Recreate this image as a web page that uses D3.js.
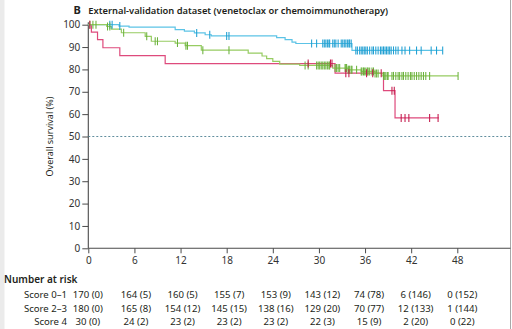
<!DOCTYPE html>
<html><head><meta charset="utf-8">
<script src="https://cdn.jsdelivr.net/npm/d3@7"></script>
<style>html,body{margin:0;padding:0;background:#fff;}svg{display:block;font-family:"Noto Sans",sans-serif;}</style>
</head><body>
<svg id="c" width="512" height="329"></svg>
<script>
// ---------- data ----------
const months = [0, 6, 12, 18, 24, 30, 36, 42, 48];
const yTicks = [0, 10, 20, 30, 40, 50, 60, 70, 80, 90, 100];
const seriesNames = ["Score 0–1", "Score 2–3", "Score 4"];

// Kaplan–Meier steps [month, survival %]
const stepsScore01 = [[0,100],[4.0,99.4],[5.3,98.9],[11.3,97.8],[12.5,97.1],[13.8,96.3],[15.2,95.5],[16.0,95.0],[24.5,94.2],[25.6,93.3],[26.5,92.2],[27.0,91.6],[34.3,88.5]];
const endScore01 = 46.1;
const stepsScore23 = [[0,100],[2.4,99.2],[3.0,98.0],[4.3,96.4],[7.4,94.8],[8.2,92.6],[11.3,91.8],[12.6,90.6],[14.7,88.6],[20.8,87.3],[22.6,86.0],[23.2,84.8],[24.0,83.6],[24.9,82.4],[27.5,81.8],[31.8,80.6],[33.8,79.8],[35.5,79.1],[37.3,78.2],[38.2,77.1]];
const endScore23 = 48.1;
const stepsScore4 = [[0,100],[0.4,96.7],[1.2,93.3],[1.9,89.7],[4.1,86.2],[10.0,82.6],[32.1,78.3],[38.4,70.5],[39.9,58.3]];
const endScore4 = 45.6;

// censoring times (months)
const censorScore01 = [2.8,3.1,4.1,14.1,15.8,18.0,18.3,29.05,29.7,30.5,30.7,30.9,31.1,31.3,31.4,31.8,32.0,32.2,32.5,32.9,33.1,33.3,33.5,33.7,33.9,34.0,34.2,34.8,35.0,35.3,35.5,35.7,35.9,36.1,36.3,36.6,36.9,37.1,37.4,37.7,38.0,38.2,38.4,38.6,38.8,39.0,39.2,39.4,39.7,40.0,40.3,40.8,41.2,41.8,42.7,43.3,44.6,45.3,46.1];
const censorScore23 = [0.2,0.6,1.0,2.5,2.8,4.6,7.6,8.7,9.0,11.6,12.7,12.9,14.9,18.3,28.2,28.6,29.7,29.9,30.1,30.3,30.5,30.7,30.9,31.1,31.3,31.4,32.1,32.3,32.5,32.7,33.4,33.5,33.6,33.8,33.9,34.0,34.2,34.3,34.9,35.5,35.6,35.8,35.9,36.1,36.3,36.4,36.6,36.9,37.1,37.3,37.5,37.7,38.4,38.5,38.7,38.9,39.0,39.5,39.7,40.0,40.3,40.5,40.8,41.0,41.3,41.6,41.9,42.1,42.4,42.7,43.0,43.3,43.6,43.9,44.4,48.1];
const censorScore4 = [0.2,28.6,31.5,31.7,33.5,33.9,36.2,37.0,38.1,39.5,39.8,40.7,41.2,41.7,44.4,45.5];

// number at risk (censored)
const atRisk01 = [170,164,160,155,153,143,74,6,0];
const cens01   = [0,5,5,7,9,12,78,146,152];
const atRisk23 = [180,165,154,145,138,129,70,12,1];
const cens23   = [0,8,12,15,16,20,77,133,144];
const atRisk4  = [30,24,23,23,23,22,15,2,0];
const cens4    = [0,2,2,2,2,3,9,20,22];

// ---------- layout ----------
const svg = d3.select("#c");
const x = d3.scaleLinear().domain([0, 48]).range([88.3, 457.3]);
const y = d3.scaleLinear().domain([0, 100]).range([248.3, 24.7]);
const axisCol = "#4a4a4a", textCol = "#231f20";

// frame
svg.append("rect").attr("x",0).attr("y",0).attr("width",4.5).attr("height",329).attr("fill","#ebebeb");
svg.append("line").attr("x1",510.5).attr("x2",510.5).attr("y1",0).attr("y2",329).attr("stroke","#a8a8a8").attr("stroke-width",1);

function fit(sel, w){ const n = sel.node(); const L = n.getComputedTextLength(); const fs = parseFloat(sel.attr("font-size")); sel.attr("font-size", fs * w / L); }

// title
svg.append("text").attr("x",73.5).attr("y",13.5).attr("font-size",11).attr("font-weight",700).attr("fill",textCol).text("B");
const title = svg.append("text").attr("x",88.3).attr("y",13.5).attr("font-size",10).attr("font-weight",600).attr("fill",textCol)
  .text("External-validation dataset (venetoclax or chemoimmunotherapy)");
fit(title, 300);

// axes
const gy = svg.append("g").attr("transform","translate(88.3,0)")
  .call(d3.axisLeft(y).tickValues(yTicks).tickSize(6).tickPadding(2).tickSizeOuter(0));
gy.select(".domain").remove();
gy.selectAll("line").attr("stroke",axisCol);
gy.selectAll("text").attr("font-size",10).attr("fill","#333").attr("font-family","Noto Sans");

const gx = svg.append("g").attr("transform","translate(0,248.3)")
  .call(d3.axisBottom(x).tickValues(months).tickSize(5).tickPadding(3.5).tickSizeOuter(0));
gx.select(".domain").remove();
gx.selectAll("line").attr("stroke",axisCol);
gx.selectAll("text").attr("font-size",10).attr("fill","#333").attr("font-family","Noto Sans");

svg.append("line").attr("x1",x(0)).attr("x2",x(0)).attr("y1",y(100)-2.5).attr("y2",y(0)).attr("stroke",axisCol).attr("stroke-width",1.1);
svg.append("line").attr("x1",x(0)).attr("x2",510.5).attr("y1",y(0)).attr("y2",y(0)).attr("stroke",axisCol).attr("stroke-width",1.1);

// y label
const yl = svg.append("text").attr("transform",`translate(50,${y(50)}) rotate(-90)`).attr("text-anchor","middle").attr("dy","0.35em")
  .attr("font-size",9.5).attr("fill",textCol).text("Overall survival (%)");
fit(yl, 80);

// 50% reference
svg.append("line").attr("x1",x(0)).attr("x2",510).attr("y1",y(50)).attr("y2",y(50))
  .attr("stroke","#4f8193").attr("stroke-width",0.9).attr("stroke-dasharray","2,2");

// curves
const series = [
  {steps: stepsScore01, end: endScore01, censor: censorScore01, line: "#5cc3e6", mark: "#1f9fd2"},
  {steps: stepsScore23, end: endScore23, censor: censorScore23, line: "#97cc62", mark: "#6bb23c"},
  {steps: stepsScore4,  end: endScore4,  censor: censorScore4,  line: "#de4a7c", mark: "#c3174a"}
];
const lineGen = d3.line().x(d => x(d[0])).y(d => y(d[1])).curve(d3.curveStepAfter);
function valAt(steps, t){ let v = steps[0][1]; for (const s of steps) if (s[0] <= t) v = s[1]; return v; }

const drawOrder = [2, 0, 1];
drawOrder.forEach(i => {
  const s = series[i];
  const pts = s.steps.concat([[s.end, s.steps[s.steps.length-1][1]]]);
  svg.append("path").attr("d", lineGen(pts)).attr("fill","none").attr("stroke", s.line).attr("stroke-width",1.2);
});
[0, 1, 2].forEach(i => {
  const s = series[i];
  svg.append("g").selectAll("line").data(s.censor).join("line")
    .attr("x1", d => x(d)).attr("x2", d => x(d))
    .attr("y1", d => y(valAt(s.steps, d)) - 4).attr("y2", d => y(valAt(s.steps, d)) + 4)
    .attr("stroke", s.mark).attr("stroke-width", 1.05);
});

// number at risk
svg.append("text").attr("x",4).attr("y",283).attr("font-size",10).attr("font-weight",600).attr("fill",textCol).text("Number at risk");
const rows = [[atRisk01, cens01], [atRisk23, cens23], [atRisk4, cens4]];
const rowY = [297.5, 311.5, 324.5];
rows.forEach((r, i) => {
  svg.append("text").attr("x",67).attr("y",rowY[i]).attr("text-anchor","end").attr("font-size",9.6).attr("fill",textCol).text(seriesNames[i]);
  svg.append("g").selectAll("text").data(months).join("text")
    .attr("x", (m, j) => x(m) + (j === 0 ? -0.5 : 1 + j * 0.5)).attr("y", rowY[i]).attr("text-anchor","middle")
    .attr("font-size",9.6).attr("fill",textCol)
    .text((m, j) => `${r[0][j]} (${r[1][j]})`);
});
</script>
</body></html>
